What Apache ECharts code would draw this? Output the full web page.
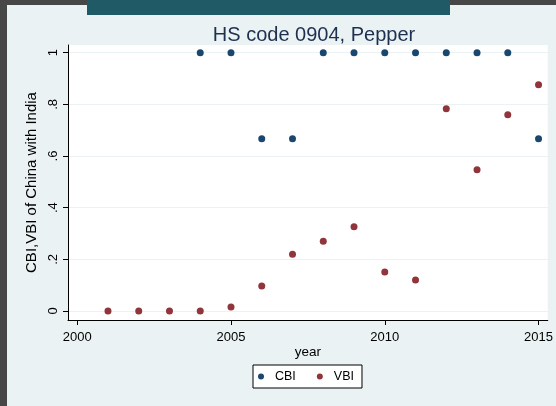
<!DOCTYPE html>
<html><head><meta charset="utf-8">
<script src="https://cdn.jsdelivr.net/npm/echarts@6/dist/echarts.min.js"></script>
<style>html,body{margin:0;padding:0;background:#474747;}#c{width:556px;height:406px;}</style>
</head><body><div id="c"></div>
<script>
const years = [2001,2002,2003,2004,2005,2006,2007,2008,2009,2010,2011,2012,2013,2014,2015];
const cbi   = [null,null,null,1,1,0.667,0.667,1,1,1,1,1,1,1,0.667];
const vbi   = [0,0,0,0,0.015,0.097,0.22,0.27,0.326,0.151,0.12,0.783,0.547,0.76,0.876];
const xTicks = [2000,2005,2010,2015];
const yTicks = [0,0.2,0.4,0.6,0.8,1];
const yTickLabels = ['0','.2','.4','.6','.8','1'];

const pair = (vals) => years.map((y,i)=>[y, vals[i]]).filter(p=>p[1]!==null);
const font = 'Liberation Sans, Arial, sans-serif';
const chart = echarts.init(document.getElementById('c'));
chart.setOption({
  backgroundColor: '#474747',
  animation: false,
  graphic: [
    {type:'rect', shape:{x:7,y:5,width:549,height:401}, style:{fill:'#eaf2f3'}, z:-10},
    {type:'rect', shape:{x:87,y:0,width:363,height:15}, style:{fill:'#1f5a66'}, z:-9}
  ],
  title: {
    text: 'HS code 0904, Pepper', left: 309, top: 20, textAlign: 'center',
    textStyle: {fontFamily: font, fontSize: 20, fontWeight: 'normal', color: '#1e3050'}
  },
  grid: {left: 68, top: 45, right: 6, bottom: 86, show: true, backgroundColor: '#ffffff', borderWidth: 0},
  legend: {
    data: ['CBI','VBI'], left: 253, top: 365, orient: 'horizontal',
    backgroundColor: '#ffffff', borderColor: '#000', borderWidth: 1,
    padding: [5, 8, 5, 5], itemWidth: 6, itemHeight: 6, itemGap: 21,
    textStyle: {fontFamily: font, fontSize: 12.5, color: '#000', padding: [0, 0, 0, 6]}
  },
  xAxis: {
    type: 'value', min: 1999.7, max: 2015.3,
    name: 'year', nameLocation: 'middle', nameGap: 25, nameMoveOverlap: false,
    nameTextStyle: {fontFamily: font, fontSize: 13.5, color: '#000'},
    axisLine: {show: true, onZero: false, lineStyle: {color: '#000', width: 1}},
    axisTick: {show: true, length: 5, customValues: xTicks, lineStyle: {color: '#000'}},
    axisLabel: {customValues: xTicks, fontFamily: font, fontSize: 13, color: '#000', margin: 11,
      formatter: v => String(Math.round(v))},
    splitLine: {show: false}
  },
  yAxis: {
    type: 'value', min: -0.035, max: 1.03,
    name: 'CBI,VBI of China with India', nameLocation: 'middle', nameGap: 28.5, nameRotate: 90, nameMoveOverlap: false,
    nameTextStyle: {fontFamily: font, fontSize: 15, color: '#000'},
    axisLine: {show: true, onZero: false, lineStyle: {color: '#000', width: 1}},
    axisTick: {show: true, length: 5, customValues: yTicks, lineStyle: {color: '#000'}},
    axisLabel: {customValues: yTicks, rotate: 90, fontFamily: font, fontSize: 13, color: '#000', margin: 8,
      formatter: v => { const i = yTicks.findIndex(t => Math.abs(t-v)<1e-6); return i>=0 ? yTickLabels[i] : ''; }},
    splitLine: {show: true, lineStyle: {color: '#eaf2f3', width: 1}}
  },
  series: [
    {name:'CBI', type:'scatter', data: pair(cbi), symbolSize: 7, itemStyle:{color:'#1a476f', opacity: 1}},
    {name:'VBI', type:'scatter', data: pair(vbi), symbolSize: 7, itemStyle:{color:'#90353b', opacity: 1}}
  ]
});
</script></body></html>
